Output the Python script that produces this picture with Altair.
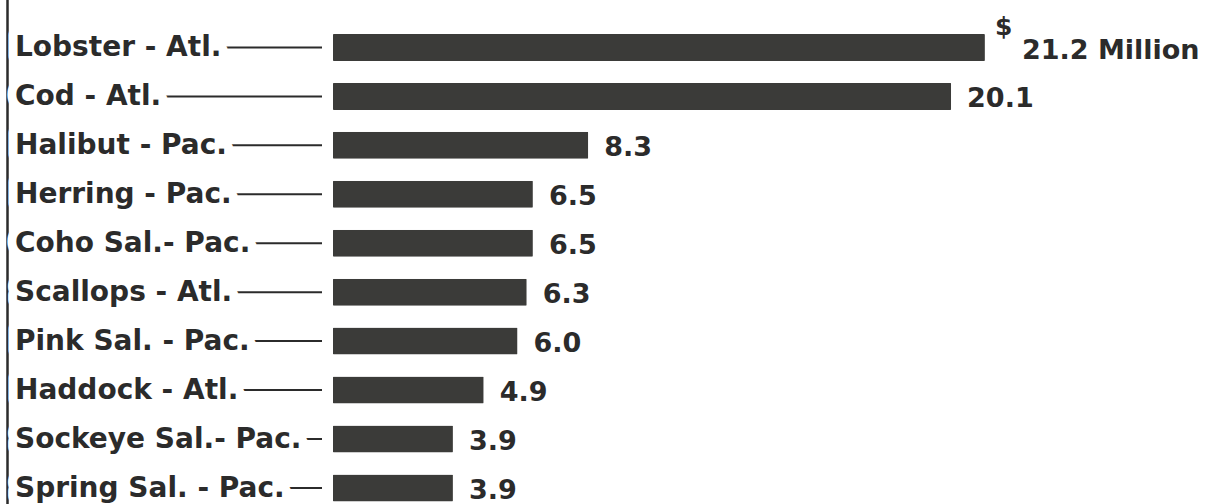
import altair as alt
import pandas as pd

categories = [
    "Lobster - Atl.",
    "Cod - Atl.",
    "Halibut - Pac.",
    "Herring - Pac.",
    "Coho Sal.- Pac.",
    "Scallops - Atl.",
    "Pink Sal. - Pac.",
    "Haddock - Atl.",
    "Sockeye Sal.- Pac.",
    "Spring Sal. - Pac.",
]
values = [21.2, 20.1, 8.3, 6.5, 6.5, 6.3, 6.0, 4.9, 3.9, 3.9]
value_labels = ["21.2 Million", "20.1", "8.3", "6.5", "6.5", "6.3", "6.0", "4.9", "3.9", "3.9"]
currency = "$"

df = pd.DataFrame({"category": categories, "value": values, "vlabel": value_labels})

FONT = "DejaVu Sans"
INK = "#2b2b2b"
BAR = "#3b3b39"

y_enc = alt.Y(
    "category:N",
    sort=categories,
    axis=None,
    scale=alt.Scale(paddingInner=0.448, paddingOuter=0.373, align=0.93),
)
x_scale = alt.Scale(domain=[0, 28.91], nice=False, zero=True)

base = alt.Chart(df)
first = alt.datum.category == categories[0]
rest = alt.datum.category != categories[0]

bars = base.mark_bar(color=BAR, cornerRadius=1).encode(
    x=alt.X("value:Q", scale=x_scale, axis=None),
    y=y_enc,
)

leaders = base.mark_rule(color=INK, strokeWidth=2).encode(
    x=alt.value(-318), x2=alt.value(-11), y=y_enc
)

label_mask = base.mark_text(
    align="left", baseline="middle", font=FONT, fontSize=28, fontWeight="bold",
    fill="white", stroke="white", strokeWidth=18, strokeJoin="round", dy=1,
).encode(x=alt.value(-318), y=y_enc, text="category:N")

labels = base.mark_text(
    align="left", baseline="middle", font=FONT, fontSize=28, fontWeight="bold",
    color=INK, dy=1,
).encode(x=alt.value(-318), y=y_enc, text="category:N")

vlabels = base.transform_filter(rest).mark_text(
    align="left", baseline="middle", font=FONT, fontSize=27, fontWeight="bold",
    color=INK, dx=16, dy=3,
).encode(x=alt.X("value:Q", scale=x_scale), y=y_enc, text="vlabel:N")

vlabel_top = base.transform_filter(first).mark_text(
    align="left", baseline="middle", font=FONT, fontSize=27, fontWeight="bold",
    color=INK, dx=37, dy=4,
).encode(x=alt.X("value:Q", scale=x_scale), y=y_enc, text="vlabel:N")

dollar = base.transform_filter(first).mark_text(
    align="left", baseline="middle", font=FONT, fontSize=25, fontWeight="bold",
    color=INK, dx=10, dy=-20,
).encode(x=alt.X("value:Q", scale=x_scale), y=y_enc, text=alt.value(currency))

frame = base.transform_filter(first).mark_rule(
    color=INK, strokeWidth=2.5
).encode(x=alt.value(-325.5), y=alt.value(0), y2=alt.value(504))

chart = (
    alt.layer(frame, leaders, label_mask, labels, bars, vlabels, vlabel_top, dollar)
    .properties(
        width=889,
        height=504,
        padding={"left": 333, "top": 0, "right": 0, "bottom": 0},
        autosize=alt.AutoSizeParams(type="none"),
        background="white",
    )
    .configure_view(strokeWidth=0)
)

chart.save("out.html", embed_options={"renderer": "svg", "actions": False})
